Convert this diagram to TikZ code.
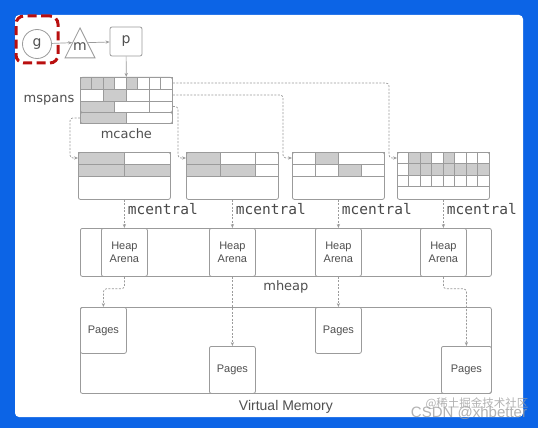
\documentclass[tikz,border=0pt]{standalone}
\usepackage{fontspec}
\setmainfont{Liberation Sans}
\newfontfamily\roundfont{DejaVu Sans}
\newfontfamily\codefont{DejaVu Sans Mono}
\newfontfamily\cjkfont{Noto Sans CJK SC}
\usepackage{xcolor}
\usepackage{tikz}
\usetikzlibrary{arrows.meta,positioning,shapes,calc}

\definecolor{frameblue}{RGB}{12,100,230}
\definecolor{edge}{RGB}{155,155,155}
\definecolor{shade}{RGB}{204,204,204}
\definecolor{ink}{RGB}{80,80,80}
\definecolor{markred}{RGB}{185,15,15}

% one row of slots: x, y, height, list of from/to/fill (slot units of 11.5)
\newcommand{\slotrow}[4]{%
  \foreach \s/\e/\c in {#4}
    \draw[slot, fill=\c] (#1+\s*11.5,#2) rectangle (#1+\e*11.5,#2+#3);}

\begin{document}
\begin{tikzpicture}[x=1pt,y=-1pt,>={Stealth[length=4pt,width=3.2pt]}]
\tikzstyle{slot}=[draw=edge, line width=0.7pt]
\tikzstyle{box}=[draw=edge, line width=0.8pt, rounded corners=2pt, inner sep=0pt, anchor=north west]
\tikzstyle{link}=[->, draw=edge, dash pattern=on 2pt off 1.5pt, line width=0.7pt, rounded corners=3pt]
\tikzstyle{flow}=[->, draw=edge, line width=0.7pt]
\tikzstyle{hilite}=[draw=markred, line width=3pt, dash pattern=on 9pt off 4.5pt, rounded corners=8pt]
\tikzstyle{lbl}=[text=ink, font=\roundfont\fontsize{13}{15}\selectfont]
\tikzstyle{letter}=[text=ink, font=\roundfont\fontsize{14}{16}\selectfont]
\tikzstyle{monotext}=[text=ink!90!black, font=\codefont\fontsize{14.5}{16}\selectfont, anchor=west]
\tikzstyle{boxtext}=[text=ink, font=\fontsize{11}{13}\selectfont, align=center]

% frame
\fill[frameblue] (0,0) rectangle (538,428);
\fill[white, rounded corners=4pt] (15,15) rectangle (523,417);
\useasboundingbox (0,0) rectangle (538,428);

% g -> m -> p
\node[hilite, minimum width=42pt, minimum height=47pt] (focus) at (37,39.5) {};
\node[circle, draw=edge, line width=0.8pt, minimum size=29pt, inner sep=0pt, letter] (g) at (37,44) {g};
\node[isosceles triangle, shape border rotate=90, isosceles triangle apex angle=53,
      isosceles triangle stretches, minimum width=30pt, minimum height=30pt,
      draw=edge, line width=0.8pt, inner sep=0pt, anchor=apex] (m) at (80,27) {};
\node[letter] (mtext) at (80,47) {m};
\node[box, anchor=center, minimum width=32pt, minimum height=29pt, letter] (p) at (126,41.5) {p};
\draw[flow] (g) -- (m.left side);
\draw[flow] (m.right side) -- (p);

% mcache
\slotrow{80}{77}{12}{0/1/shade,1/2/shade,2/3/shade,3/4/white,4/5/shade,5/6/white,6/7/white,7/8/white}
\slotrow{80}{89}{12}{0/2/white,2/4/shade,4/6/white,6/8/white}
\slotrow{80}{101}{11}{0/3/shade,3/6/white,6/8/white}
\node[box, minimum width=92pt, minimum height=35pt] (mcache) at (80,77) {};
\slotrow{80}{112}{11}{0/4/shade,4/8/white}
\node[box, minimum width=92pt, minimum height=11pt] (lastspan) at (80,112) {};
\draw[flow] (p) -- (mcache);
\node[lbl] (spanlbl) at (49,100) {mspans};
\node[lbl, below=1pt of lastspan] (cachelbl) {mcache};

% mcentral
\slotrow{78}{152}{12}{0/4/shade,4/8/white}
\slotrow{78}{164}{12}{0/4/shade,4/8/shade}
\node[box, minimum width=92pt, minimum height=47pt] (cent1) at (78,152) {};
\slotrow{186}{152}{12}{0/3/shade,3/6/white,6/8/white}
\slotrow{186}{164}{12}{0/3/shade,3/6/shade,6/8/white}
\node[box, minimum width=92pt, minimum height=47pt] (cent2) at (186,152) {};
\slotrow{292}{152}{12}{0/2/white,2/4/shade,4/8/white}
\slotrow{292}{164}{12}{0/2/white,2/4/white,4/6/shade,6/8/white}
\node[box, minimum width=92pt, minimum height=47pt] (cent3) at (292,152) {};
\slotrow{397}{152}{11.5}{0/1/white,1/2/shade,2/3/shade,3/4/white,4/5/shade,5/6/white,6/7/white,7/8/white}
\slotrow{397}{163.5}{11.5}{0/1/white,1/2/shade,2/3/shade,3/4/shade,4/5/shade,5/6/shade,6/7/shade,7/8/shade}
\slotrow{397}{175}{11.5}{0/1/white,1/2/white,2/3/white,3/4/white,4/5/white,5/6/white,6/7/white,7/8/white}
\node[box, minimum width=92pt, minimum height=47pt] (cent4) at (397,152) {};

\draw[link] ([yshift=-6pt]mcache.north east) -| ([xshift=-8pt,yshift=-6pt]cent4.north west) -- ([yshift=-6pt]cent4.north west);
\draw[link] ([yshift=-18pt]mcache.north east) -| ([xshift=-9pt,yshift=-6pt]cent3.north west) -- ([yshift=-6pt]cent3.north west);
\draw[link] ([yshift=-29.5pt]mcache.north east) -| ([xshift=-8pt,yshift=-6pt]cent2.north west) -- ([yshift=-6pt]cent2.north west);
\draw[link] (lastspan.west) -| ([xshift=-8pt,yshift=-6pt]cent1.north west) -- ([yshift=-6pt]cent1.north west);

% mheap
\node[box, minimum width=411pt, minimum height=48pt] (mheap) at (80,228) {};
\foreach \i in {1,...,4}{
  \node[box, anchor=north, minimum width=46pt, minimum height=48pt, boxtext] (arena\i) at (cent\i.south |- mheap.north) {Heap\\Arena};
  \node[monotext] (central\i) at ([yshift=-9pt]cent\i.south) {mcentral};
  \draw[link] (cent\i.south) -- (arena\i.north);
}
\node[lbl, below=0pt of mheap] (heaplbl) {mheap};

% virtual memory
\node[box, minimum width=411pt, minimum height=86pt] (vm) at (80,307) {};
\node[box, minimum width=46pt, minimum height=46pt, boxtext] (pages1) at (vm.north west) {Pages};
\node[box, anchor=south, minimum width=46pt, minimum height=47pt, boxtext] (pages2) at (arena2.south |- vm.south) {Pages};
\node[box, anchor=north, minimum width=46pt, minimum height=46pt, boxtext] (pages3) at (arena3.south |- vm.north) {Pages};
\node[box, anchor=south east, minimum width=50pt, minimum height=47pt, boxtext] (pages4) at (vm.south east) {Pages};
\draw[link] (arena1.south) -- ++(0,12) -| (pages1.north);
\draw[link] (arena2.south) -- (pages2.north);
\draw[link] (arena3.south) -- (pages3.north);
\draw[link] (arena4.south) -- ++(0,12) -| (pages4.north);
\node[text=ink, font=\fontsize{14}{16}\selectfont, below=3pt of vm] (vmlbl) {Virtual Memory};

% watermark
\node[text=gray!75, opacity=0.8, font=\cjkfont\fontsize{11.5}{13}\selectfont] (mark1) at (477,404) {@稀土掘金技术社区};
\node[text=gray!75, opacity=0.8, font=\fontsize{15}{17}\selectfont] (mark2) at (469,413) {CSDN @xhbetter};
\end{tikzpicture}
\end{document}
